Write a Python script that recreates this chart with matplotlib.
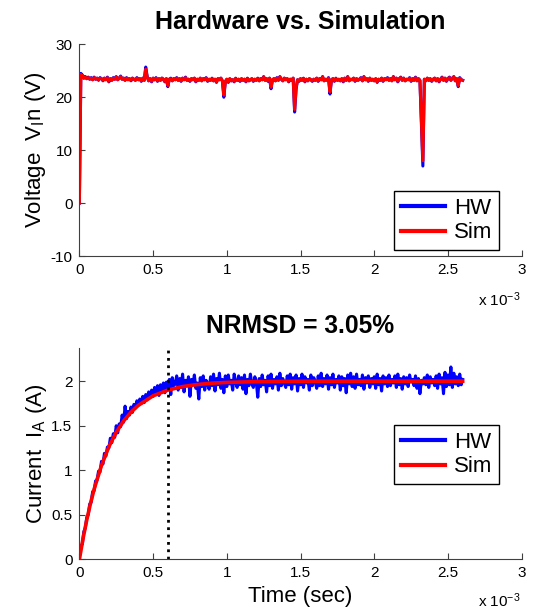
import numpy as np
import matplotlib.pyplot as plt

plt.rcParams['font.family'] = ['Liberation Sans', 'DejaVu Sans']
plt.rcParams['mathtext.fontset'] = 'custom'
plt.rcParams['mathtext.rm'] = 'Liberation Sans'
plt.rcParams['mathtext.it'] = 'Liberation Sans'
plt.rcParams['axes.unicode_minus'] = False

# --- Voltage (0.01 ms sample step) ---
v_hw = [0.0, 24.5, 24.2, 23.6, 23.9, 23.5, 23.8, 23.4, 23.7, 23.3,
        23.8, 23.4, 23.6, 23.2, 23.7, 23.5, 23.1, 23.6, 23.3, 23.8,
        22.9, 23.5, 23.2, 23.7, 23.4, 23.9, 23.3, 23.6, 24.0, 23.4,
        23.6, 23.2, 23.7, 23.3, 23.5, 23.1, 23.6, 23.4, 23.2, 23.7,
        23.3, 23.5, 23.0, 23.6, 23.2, 25.7, 23.9, 23.1, 23.5, 22.9,
        23.6, 23.3, 23.7, 23.0, 23.5, 23.2, 23.6, 23.4, 22.9, 23.5,
        22.0, 23.4, 23.6, 23.1, 23.5, 23.3, 23.7, 23.2, 23.5, 23.0,
        23.6, 23.3, 23.8, 23.2, 23.4, 23.0, 23.5, 23.3, 23.6, 22.9,
        23.4, 23.2, 23.6, 23.1, 23.5, 23.3, 23.7, 23.0, 23.4, 23.2,
        23.6, 23.1, 23.4, 22.8, 23.5, 23.3, 23.6, 23.1, 20.0, 22.9,
        23.4, 22.8, 23.5, 23.1, 23.3, 22.9, 23.6, 23.2, 23.4, 23.0,
        23.5, 23.2, 23.4, 22.9, 23.6, 23.1, 23.3, 23.5, 23.0, 23.4,
        23.2, 23.6, 23.1, 23.5, 23.3, 23.9, 23.2, 23.5, 23.0, 23.6,
        21.6, 23.3, 23.5, 23.1, 23.7, 23.2, 23.9, 23.4, 23.1, 23.6,
        23.3, 23.5, 22.9, 23.4, 23.2, 23.6, 17.2, 21.5, 23.3, 23.0,
        23.5, 23.2, 23.6, 22.9, 23.4, 23.1, 23.5, 23.3, 23.0, 23.4,
        23.2, 23.6, 23.0, 23.5, 23.3, 23.9, 23.1, 23.4, 23.2, 23.7,
        20.6, 23.3, 23.5, 23.0, 23.6, 23.2, 23.4, 23.1, 23.5, 22.9,
        23.6, 23.2, 23.9, 23.1, 23.4, 23.3, 23.6, 23.0, 23.5, 23.2,
        23.4, 23.7, 23.1, 23.9, 23.3, 23.5, 23.0, 23.6, 23.2, 23.4,
        23.1, 23.5, 22.8, 23.4, 23.2, 23.6, 23.0, 23.5, 23.3, 23.7,
        23.2, 23.5, 23.1, 23.9, 23.3, 23.6, 22.9, 23.5, 23.8, 23.2,
        23.6, 23.1, 23.4, 23.3, 23.7, 23.0, 23.5, 23.2, 23.8, 23.1,
        23.5, 23.2, 15.3, 7.0, 23.4, 23.1, 23.6, 23.2, 23.5, 23.0,
        23.4, 23.6, 23.1, 23.5, 22.9, 23.4, 23.8, 23.2, 23.6, 23.0,
        23.5, 23.8, 23.2, 23.6, 23.9, 23.1, 23.5, 22.0, 23.7, 23.3,
        23.2]
v_sim = [0.0, 24.3, 24.1, 23.6, 23.8, 23.5, 23.7, 23.4, 23.6, 23.3,
         23.7, 23.4, 23.6, 23.3, 23.6, 23.5, 23.2, 23.6, 23.3, 23.7,
         23.0, 23.5, 23.2, 23.6, 23.4, 23.8, 23.3, 23.6, 23.9, 23.4,
         23.6, 23.2, 23.6, 23.3, 23.5, 23.2, 23.6, 23.4, 23.2, 23.6,
         23.3, 23.5, 23.1, 23.6, 23.2, 25.3, 23.8, 23.1, 23.5, 23.0,
         23.6, 23.3, 23.6, 23.1, 23.5, 23.2, 23.6, 23.4, 23.0, 23.5,
         22.2, 23.4, 23.5, 23.1, 23.5, 23.3, 23.6, 23.2, 23.5, 23.1,
         23.6, 23.3, 23.7, 23.2, 23.4, 23.1, 23.5, 23.3, 23.6, 23.0,
         23.4, 23.2, 23.6, 23.1, 23.5, 23.3, 23.6, 23.1, 23.4, 23.2,
         23.5, 23.1, 23.4, 22.9, 23.5, 23.3, 23.6, 23.1, 20.4, 23.0,
         23.4, 22.9, 23.5, 23.1, 23.3, 23.0, 23.5, 23.2, 23.4, 23.1,
         23.5, 23.2, 23.4, 23.0, 23.5, 23.1, 23.3, 23.5, 23.1, 23.4,
         23.2, 23.5, 23.1, 23.5, 23.3, 23.8, 23.2, 23.5, 23.1, 23.6,
         21.9, 23.3, 23.5, 23.1, 23.6, 23.2, 23.8, 23.4, 23.1, 23.6,
         23.3, 23.5, 23.0, 23.4, 23.2, 23.6, 17.7, 21.8, 23.3, 23.1,
         23.5, 23.2, 23.5, 23.0, 23.4, 23.1, 23.5, 23.3, 23.1, 23.4,
         23.2, 23.6, 23.1, 23.5, 23.3, 23.8, 23.1, 23.4, 23.2, 23.6,
         21.0, 23.3, 23.5, 23.1, 23.5, 23.2, 23.4, 23.1, 23.5, 23.0,
         23.6, 23.2, 23.8, 23.1, 23.4, 23.3, 23.6, 23.1, 23.5, 23.2,
         23.4, 23.6, 23.1, 23.8, 23.3, 23.5, 23.1, 23.6, 23.2, 23.4,
         23.1, 23.5, 22.9, 23.4, 23.2, 23.6, 23.1, 23.5, 23.3, 23.6,
         23.2, 23.5, 23.1, 23.8, 23.3, 23.6, 23.0, 23.5, 23.7, 23.2,
         23.6, 23.1, 23.4, 23.3, 23.6, 23.1, 23.5, 23.2, 23.7, 23.1,
         23.5, 23.2, 15.8, 8.0, 23.4, 23.1, 23.6, 23.2, 23.5, 23.1,
         23.4, 23.6, 23.1, 23.5, 23.0, 23.4, 23.7, 23.2, 23.6, 23.1,
         23.5, 23.7, 23.2, 23.6, 23.8, 23.1, 23.5, 22.2, 23.6, 23.3,
         23.2]

# --- Current (0.01 ms sample step) ---
i_hw = [0.02, 0.15, 0.17, 0.31, 0.35, 0.47, 0.50, 0.62, 0.64, 0.76,
        0.77, 0.88, 0.89, 0.99, 0.98, 1.10, 1.07, 1.19, 1.16, 1.26,
        1.25, 1.36, 1.31, 1.41, 1.37, 1.50, 1.42, 1.52, 1.49, 1.62,
        1.54, 1.72, 1.58, 1.66, 1.62, 1.71, 1.65, 1.74, 1.70, 1.78,
        1.73, 1.80, 1.75, 1.83, 1.76, 1.85, 1.79, 1.88, 1.82, 1.90,
        1.83, 1.93, 1.86, 1.95, 1.84, 1.96, 1.89, 1.98, 1.87, 1.99,
        1.92, 2.02, 1.85, 2.04, 1.95, 1.97, 2.06, 1.90, 2.03, 1.93,
        2.08, 1.88, 2.01, 1.95, 2.05, 1.83, 2.02, 1.96, 2.07, 1.92,
        1.98, 1.80, 2.04, 1.94, 2.06, 1.90, 2.01, 1.97, 1.91, 2.05,
        1.95, 2.08, 1.89, 2.03, 1.96, 2.09, 1.92, 2.02, 1.87, 2.06,
        1.94, 2.07, 1.97, 2.01, 1.90, 2.08, 1.99, 1.93, 2.06, 1.96,
        2.04, 1.91, 2.07, 1.86, 2.02, 1.95, 2.08, 1.97, 1.93, 2.05,
        1.99, 1.82, 2.03, 1.94, 2.07, 1.96, 2.01, 1.88, 2.06, 1.95,
        2.08, 1.92, 2.02, 1.97, 2.05, 1.90, 2.09, 1.95, 2.03, 1.98,
        1.93, 2.06, 1.96, 2.08, 1.91, 2.04, 1.97, 2.07, 1.89, 2.03,
        1.96, 2.08, 1.93, 2.05, 1.98, 2.02, 1.90, 2.07, 1.95, 2.04,
        1.99, 1.92, 2.06, 1.95, 2.09, 1.94, 2.03, 1.97, 2.07, 1.91,
        2.04, 1.96, 2.08, 1.93, 2.02, 1.98, 2.06, 1.90, 2.05, 1.95,
        2.03, 1.87, 2.07, 1.97, 2.09, 1.94, 2.05, 1.92, 2.08, 1.96,
        2.02, 1.95, 2.07, 1.91, 2.04, 1.98, 2.06, 1.93, 2.03, 1.97,
        2.05, 1.92, 2.08, 1.96, 2.03, 1.89, 2.06, 1.97, 2.04, 1.94,
        2.07, 1.95, 2.02, 1.98, 2.06, 1.93, 2.08, 1.96, 2.03, 1.91,
        2.05, 1.97, 2.04, 1.94, 2.07, 1.99, 2.02, 1.95, 2.06, 1.92,
        2.03, 1.86, 2.01, 1.97, 2.04, 1.96, 2.07, 1.93, 2.05, 1.98,
        2.02, 1.95, 2.06, 1.92, 2.08, 1.97, 2.04, 1.86, 2.10, 1.94,
        2.07, 1.96, 2.16, 1.93, 2.09, 1.97, 2.05, 1.95, 2.08, 1.96,
        2.02]
t_sim_ms = [0, 0.025, 0.05, 0.075, 0.1, 0.15, 0.2, 0.25, 0.3, 0.35, 0.4,
            0.5, 0.6, 0.7, 0.8, 0.9, 1.0, 1.2, 1.5, 2.0, 2.6]
i_sim = [0, 0.235, 0.442, 0.625, 0.787, 1.055, 1.264, 1.427, 1.554, 1.652,
         1.729, 1.836, 1.900, 1.940, 1.963, 1.978, 1.987, 1.995, 1.999, 2.0, 2.0]
t_marker = 0.6e-3

t_v = np.linspace(0, 2.6e-3, len(v_hw))
t_i = np.linspace(0, 2.6e-3, len(i_hw))
t_sim = np.array(t_sim_ms) * 1e-3

fig = plt.figure(figsize=(5.4, 6.11), dpi=100)
ax1 = fig.add_axes([0.147, 0.581, 0.819, 0.3465])
ax2 = fig.add_axes([0.147, 0.0846, 0.819, 0.3454])

ax1.plot(t_v, v_hw, color='#0000ff', lw=2.2, label='HW')
ax1.plot(t_v, v_sim, color='#ff0000', lw=2.2, label='Sim')
ax1.set_ylim(-10, 30)
ax1.set_yticks([-10, 0, 10, 20, 30])
ax1.set_title('Hardware vs. Simulation', fontsize=18, fontweight='bold', pad=11)
ax1.set_ylabel('Voltage  V$_{\\mathregular{I}}$n (V)', fontsize=16, labelpad=2)

ax2.plot(t_i, i_hw, color='#0000ff', lw=2.2, label='HW')
ax2.plot(t_sim, i_sim, color='#ff0000', lw=2.6, label='Sim')
ax2.axvline(t_marker, color='black', ls=':', lw=2)
ax2.set_ylim(0, 2.37)
ax2.set_yticks([0, 0.5, 1, 1.5, 2])
ax2.set_yticklabels(['0', '0.5', '1', '1.5', '2'])
ax2.set_title('NRMSD = 3.05%', fontsize=17.7, fontweight='bold', pad=11)
ax2.set_ylabel('Current  I$_{\\mathregular{A}}$ (A)', fontsize=16, labelpad=2)
ax2.set_xlabel('Time (sec)', fontsize=16, labelpad=4)

for ax, anchor_y in [(ax1, 0.028), (ax2, 0.357)]:
    ax.set_xlim(0, 3e-3)
    ax.set_xticks(np.arange(0, 3.5e-3, 0.5e-3))
    ax.set_xticklabels(['0', '0.5', '1', '1.5', '2', '2.5', '3'])
    ax.spines['top'].set_visible(False)
    ax.spines['right'].set_visible(False)
    for s in ['left', 'bottom']:
        ax.spines[s].set_color('#404040')
    ax.tick_params(direction='in', length=4, color='#404040', labelsize=11, pad=5)
    leg = ax.legend(loc='lower right', bbox_to_anchor=(0.949, anchor_y),
                    borderaxespad=0, fontsize=16, fancybox=False,
                    handlelength=2.0, handletextpad=0.4, borderpad=0.3,
                    labelspacing=0.15, framealpha=1)
    leg.get_frame().set_edgecolor('black')
    leg.get_frame().set_linewidth(1)
    for line in leg.get_lines():
        line.set_linewidth(3)

fig.text(521 / 540, 1 - 300 / 611, 'x 10$^{-3}$', ha='right', va='center', fontsize=11)
fig.text(521 / 540, 1 - 601 / 611, 'x 10$^{-3}$', ha='right', va='center', fontsize=11)

fig.savefig('out.png', dpi=100)
